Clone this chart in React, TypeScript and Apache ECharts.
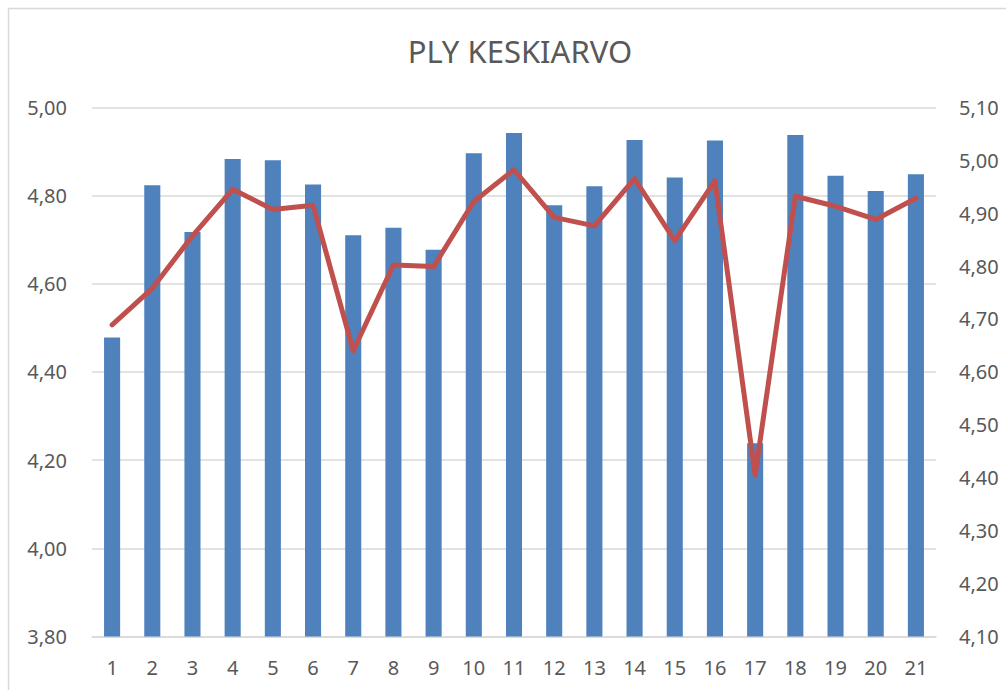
import React, { useEffect, useRef } from "react";
import * as echarts from "echarts";

const categories = ["1","2","3","4","5","6","7","8","9","10","11","12","13","14","15","16","17","18","19","20","21"];
const barValues = [4.478, 4.823, 4.717, 4.883, 4.880, 4.825, 4.710, 4.727, 4.677, 4.896, 4.942, 4.778, 4.821, 4.926, 4.841, 4.925, 4.238, 4.937, 4.845, 4.810, 4.848];
const lineValues = [4.689, 4.758, 4.857, 4.945, 4.907, 4.915, 4.640, 4.802, 4.799, 4.922, 4.982, 4.892, 4.876, 4.965, 4.848, 4.961, 4.405, 4.932, 4.913, 4.888, 4.928];
const title = "PLY KESKIARVO";

const fmt = (v: number) => v.toFixed(2).replace(".", ",");

export default function App() {
  const ref = useRef<HTMLDivElement>(null);
  useEffect(() => {
    if (!ref.current) return;
    const chart = echarts.init(ref.current, null, { renderer: "svg" });
    const font = "'Noto Sans', sans-serif";
    chart.setOption({
      animation: false,
      backgroundColor: "#ffffff",
      title: {
        text: title,
        left: 515,
        textAlign: "center",
        top: 30,
        textStyle: { fontFamily: font, fontSize: 31, fontWeight: "normal", color: "#595959" },
      },
      graphic: [
        {
          type: "rect",
          shape: { x: 8.5, y: 8.5, width: 1100, height: 800 },
          style: { fill: "none", stroke: "#d9d9d9", lineWidth: 1.5 },
          silent: true,
        },
      ],
      grid: { left: 92, right: 70, top: 107.3, bottom: 53.5 },
      xAxis: {
        type: "category",
        data: categories,
        axisLine: { show: true, lineStyle: { color: "#d9d9d9", width: 1.5 } },
        axisTick: { show: false },
        axisLabel: { fontFamily: font, fontSize: 20, color: "#595959", margin: 21 },
      },
      yAxis: [
        {
          type: "value",
          min: 3.8,
          max: 5.0,
          interval: 0.2,
          axisLine: { show: false },
          axisTick: { show: false },
          splitLine: { lineStyle: { color: "#d9d9d9", width: 1.5 } },
          axisLabel: { fontFamily: font, fontSize: 20, color: "#595959", margin: 25, formatter: fmt },
        },
        {
          type: "value",
          min: 4.1,
          max: 5.1,
          interval: 0.1,
          axisLine: { show: false },
          axisTick: { show: false },
          splitLine: { show: false },
          axisLabel: { fontFamily: font, fontSize: 20, color: "#595959", margin: 23, formatter: fmt },
        },
      ],
      series: [
        {
          type: "bar",
          data: barValues,
          yAxisIndex: 0,
          barWidth: "40%",
          itemStyle: { color: "#4F81BD" },
        },
        {
          type: "line",
          data: lineValues,
          yAxisIndex: 1,
          symbol: "none",
          lineStyle: { color: "#C0504D", width: 5, cap: "round", join: "round" },
        },
      ],
    });
    return () => chart.dispose();
  }, []);
  return <div ref={ref} style={{ position: "fixed", left: 0, top: 0, width: 1006, height: 690 }} />;
}
